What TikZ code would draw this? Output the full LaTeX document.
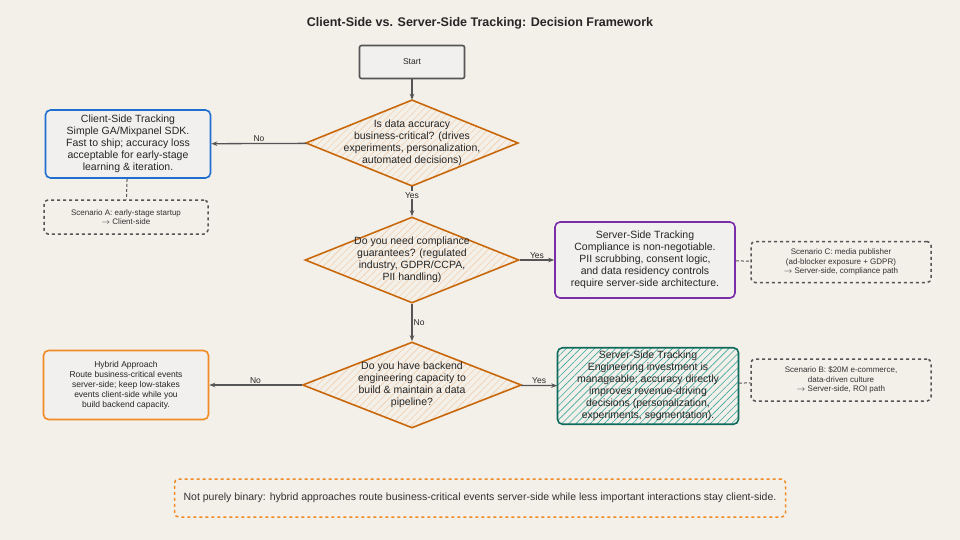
\documentclass[tikz,border=0pt]{standalone}
\usepackage{fontspec}
\setmainfont{Liberation Sans}
\usetikzlibrary{shapes.geometric,patterns.meta,arrows.meta}
\definecolor{bgc}{HTML}{F3EFE9}
\definecolor{boxc}{HTML}{F2F0EE}
\definecolor{dorange}{HTML}{C8680A}
\definecolor{lorange}{HTML}{F5C89A}
\definecolor{cblue}{HTML}{1F6FD0}
\definecolor{cpurple}{HTML}{7B2DA8}
\definecolor{cteal}{HTML}{0E6B5C}
\definecolor{lteal}{HTML}{3AA8A0}
\definecolor{corange}{HTML}{F08A24}
\definecolor{lgray}{HTML}{555555}
\tikzset{
  box/.style={draw, line width=1.6pt, rounded corners=5pt, fill=boxc, align=center, font=\fontsize{10.5}{12}\selectfont, text=black!85},
  scen/.style={draw=lgray, dashed, line width=1.5pt, rounded corners=4pt, align=center, font=\fontsize{8}{9.5}\selectfont, text=black!80},
  dia/.style={diamond, draw=dorange, line width=1.6pt, inner sep=0pt, pattern={Lines[angle=45,distance=5pt,line width=0.4pt]}, pattern color=lorange},
  dtext/.style={align=center, font=\fontsize{10.5}{12}\selectfont, text=black!85},
  arr/.style={-{Stealth[length=6pt]}, draw=lgray, line width=1.3pt},
  lbl/.style={font=\fontsize{8.5}{10}\selectfont, text=black!85, fill=bgc, inner sep=1pt}
}
\begin{document}
\begin{tikzpicture}[x=1pt,y=-1pt]
\fill[bgc] (0,0) rectangle (960,540);
\useasboundingbox (0,0) rectangle (960,540);
\node[font=\bfseries\fontsize{12.5}{14}\selectfont, text=black!85] (title) at (480,23) {Client-Side vs. Server-Side Tracking: Decision Framework};
% flow nodes
\node[box, draw=lgray, minimum width=105pt, minimum height=33pt, rounded corners=2pt, font=\fontsize{8.5}{10}\selectfont] (start) at (412,62) {Start};
\node[dia, minimum width=212pt, minimum height=86pt] (d1) at (412,143) {};
\node[dtext] at (d1) {Is data accuracy\\business-critical? (drives\\experiments, personalization,\\automated decisions)};
\node[dia, minimum width=214pt, minimum height=86pt] (d2) at (412,260) {};
\node[dtext] at (d2) {Do you need compliance\\guarantees? (regulated\\industry, GDPR/CCPA,\\PII handling)};
\node[dia, minimum width=219pt, minimum height=86pt] (d3) at (412,385) {};
\node[dtext] at (d3) {Do you have backend\\engineering capacity to\\build \& maintain a data\\pipeline?};
\node[box, draw=cblue, minimum width=165pt, minimum height=68pt] (client) at (128,144) {Client-Side Tracking\\Simple GA/Mixpanel SDK.\\Fast to ship; accuracy loss\\acceptable for early-stage\\learning \& iteration.};
\node[box, draw=cpurple, minimum width=180pt, minimum height=76pt] (comp) at (645,260) {Server-Side Tracking\\Compliance is non-negotiable.\\PII scrubbing, consent logic,\\and data residency controls\\require server-side architecture.};
\node[box, draw=corange, minimum width=165pt, minimum height=69pt, font=\fontsize{8.5}{10}\selectfont] (hybrid) at (126,385) {Hybrid Approach\\Route business-critical events\\server-side; keep low-stakes\\events client-side while you\\build backend capacity.};
\node[box, draw=cteal, minimum width=181pt, minimum height=76pt, pattern={Lines[angle=45,distance=5pt,line width=0.6pt]}, pattern color=lteal] (roi) at (648,386) {Server-Side Tracking\\Engineering investment is\\manageable; accuracy directly\\improves revenue-driving\\decisions (personalization,\\experiments, segmentation).};
% scenarios
\node[scen, minimum width=164pt, minimum height=34pt] (scA) at (126,217) {Scenario A: early-stage startup\\$\rightarrow$ Client-side};
\node[scen, minimum width=180pt, minimum height=41pt] (scC) at (841,262) {Scenario C: media publisher\\(ad-blocker exposure + GDPR)\\$\rightarrow$ Server-side, compliance path};
\node[scen, minimum width=180pt, minimum height=42pt] (scB) at (841,380) {Scenario B: \$20M e-commerce,\\data-driven culture\\$\rightarrow$ Server-side, ROI path};
\node[scen, draw=corange, minimum width=611pt, minimum height=38pt, font=\fontsize{10.5}{12}\selectfont] (note) at (480,498) {Not purely binary: hybrid approaches route business-critical events server-side while less important interactions stay client-side.};
% connectors
\draw[arr] (start) -- (d1);
\draw[arr] (d1) -- node[lbl, above, fill=none] {No} (client);
\draw[arr] (d1) -- node[lbl, pos=0.3] {Yes} (d2);
\draw[arr] (d2) -- node[lbl, above, fill=none] {Yes} (comp);
\draw[arr] (d2) -- node[lbl, right, fill=none] {No} (d3);
\draw[arr] (d3) -- node[lbl, above, fill=none] {No} (hybrid);
\draw[arr] (d3) -- node[lbl, above, fill=none] {Yes} (roi);
\draw[lgray, densely dashed, line width=1pt] (client) -- (scA);
\draw[lgray, densely dashed, line width=1pt] (comp) -- (scC);
\draw[lgray, densely dashed, line width=1pt] (roi) -- (scB);
\end{tikzpicture}
\end{document}
